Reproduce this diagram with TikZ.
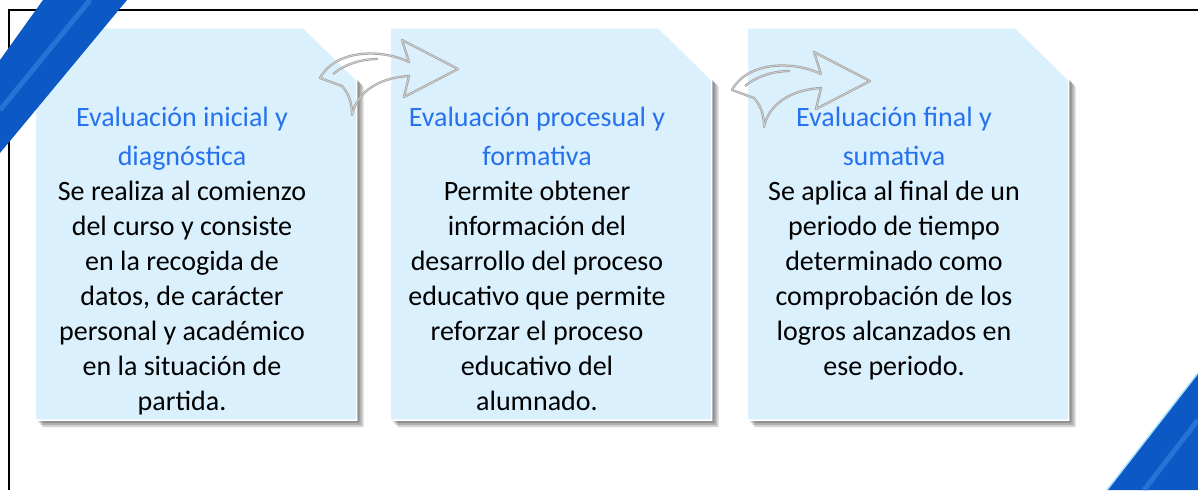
\documentclass[tikz,border=0pt]{standalone}
\usepackage{fontspec}
\setmainfont{Carlito}
\usepackage{xcolor}
\usepackage{tikz}
\usetikzlibrary{calc,positioning}
\definecolor{cardblue}{RGB}{218,240,253}
\definecolor{ttlblue}{RGB}{38,114,238}
\definecolor{ribbonblue}{RGB}{12,88,196}
\definecolor{ribbonlight}{RGB}{70,150,235}
\tikzset{
  cardbox/.style={rectangle, draw=none, minimum width=321pt, minimum height=392pt, inner sep=0pt},
  cardtxt/.style={align=center, inner sep=0pt, anchor=north, font=\fontsize{28}{35}\selectfont},
  cardfill/.style={fill=cardblue, draw=white, line width=1.5pt},
  cardshade/.style={fill=black, opacity=0.17},
  swoosh/.style={draw=gray!70, double=gray!25, double distance=0.5pt, line width=0.9pt, line join=round},
  ribbon/.style={fill=ribbonblue}
}
% outline of a card with the cut corner, moved by #2
\def\cardpath#1#2{([shift={(#2,#2)}]#1.north west) -- ([shift={(#2-53,#2)}]#1.north east) -- ([shift={(#2,#2+52)}]#1.north east) -- ([shift={(#2,#2)}]#1.south east) -- ([shift={(#2,#2)}]#1.south west) -- cycle}

\begin{document}
\begin{tikzpicture}[x=1pt,y=-1pt]
\useasboundingbox (0,0) rectangle (1198,490);
% frame
\draw[line width=2pt] (9,490) -- (9,10) -- (1198,10);

% cards
\node[cardbox] (c1) at (196,224) {};
\node[cardbox] (c2) at (551,224) {};
\node[cardbox] (c3) at (908,224) {};
\foreach \c in {c1,c2,c3}{
  \foreach \s in {3,5,7}
    \fill[cardshade] \cardpath{\c}{\s};
  \path[cardfill] \cardpath{\c}{0};
}

% texts
\node[cardtxt] (t1) at ([xshift=-14pt,yshift=-79pt]c1.north)
  {\textcolor{ttlblue}{Evaluación inicial y}\\[4pt]\textcolor{ttlblue}{diagnóstica}\\
   Se realiza al comienzo\\del curso y consiste\\en la recogida de\\datos, de carácter\\
   personal y académico\\en la situación de\\partida.};
\node[cardtxt] (t2) at ([xshift=-14pt,yshift=-79pt]c2.north)
  {\textcolor{ttlblue}{Evaluación procesual y}\\[4pt]\textcolor{ttlblue}{formativa}\\
   Permite obtener\\información del\\desarrollo del proceso\\educativo que permite\\
   reforzar el proceso\\educativo del\\alumnado.};
\node[cardtxt] (t3) at ([xshift=-14pt,yshift=-79pt]c3.north)
  {\textcolor{ttlblue}{Evaluación final y}\\[4pt]\textcolor{ttlblue}{sumativa}\\
   Se aplica al final de un\\periodo de tiempo\\determinado como\\comprobación de los\\
   logros alcanzados en\\ese periodo.};

% curved arrows
\foreach \p in {(0,0),(412,12)}
  \draw[swoosh, shift={\p}] (458,69) -- (402,40) -- (409,62)
    .. controls (380,48) and (335,50) .. (320,78) -- (342,86)
    .. controls (350,95) and (352,105) .. (352,115)
    .. controls (356,95) and (375,78) .. (409,76) -- (404,97) -- cycle
    (333,74) .. controls (345,64) and (362,59) .. (378,59);

% ribbons
\fill[ribbon] (43,0) -- (127,0) -- (0,153) -- (0,60) -- cycle;
\draw[ribbonlight, line width=5pt, opacity=.45] (90,0) -- (0,110);
\fill[ribbon] (1198,373) -- (1107,490) -- (1198,490) -- cycle;
\draw[ribbonlight, line width=5pt, opacity=.45] (1198,420) -- (1144,490);
\draw[cyan!35, line width=1.5pt] (1198,373) -- (1107,490);
\end{tikzpicture}
\end{document}
